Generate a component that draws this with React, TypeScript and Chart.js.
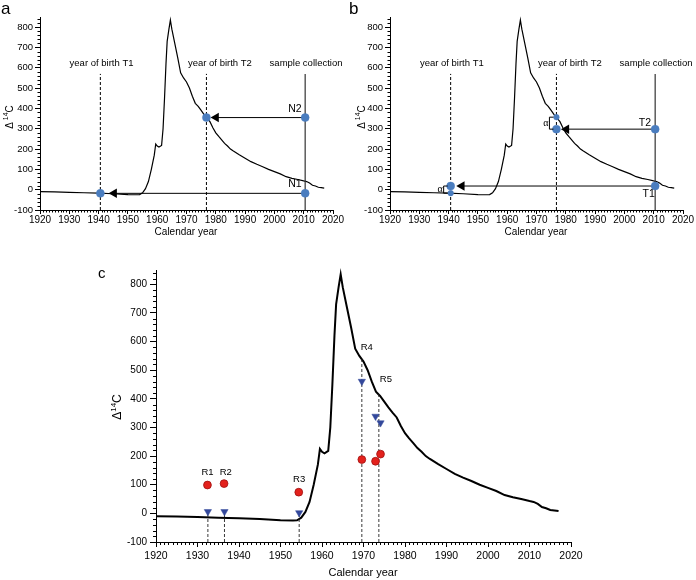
import React, { useEffect, useRef } from 'react';
import { Chart, registerables } from 'chart.js';
Chart.register(...registerables);

const FONT = "'Liberation Sans', Arial, Helvetica, sans-serif";

// ---- atmospheric bomb-curve (Δ14C by calendar year) ----
const curveYears = [1920, 1925, 1930, 1935, 1940, 1945, 1950, 1953, 1954, 1955, 1956, 1957, 1958, 1959, 1959.5, 1960, 1960.6, 1961.5, 1962, 1962.5, 1963, 1963.4, 1964, 1964.5, 1965, 1966, 1967, 1968, 1969, 1970, 1971, 1972, 1973, 1974, 1975, 1976, 1977, 1978, 1979, 1980, 1981, 1982, 1983, 1984, 1985, 1986, 1988, 1990, 1992, 1994, 1996, 1998, 2000, 2002, 2004, 2006, 2008, 2010, 2011, 2012, 2013, 2014, 2015, 2016, 2017];
const curveD14C = [-10, -11, -13, -15, -17, -20, -24, -25, -24, -15, 5, 40, 100, 170, 225, 215, 210, 218, 300, 450, 620, 730, 790, 835, 790, 720, 650, 575, 550, 530, 500, 460, 425, 410, 390, 370, 352, 335, 305, 280, 262, 245, 228, 215, 200, 190, 172, 155, 138, 125, 113, 100, 89, 78, 64, 56, 50, 43, 40, 33, 22, 18, 12, 10, 8];

const xTickYears = [1920, 1930, 1940, 1950, 1960, 1970, 1980, 1990, 2000, 2010, 2020];
const yTickValues = [-100, 0, 100, 200, 300, 400, 500, 600, 700, 800];

// ---- panel a ----
const aBirthYears = [1940.6, 1976.8];
const aSampleYear = 2010.5;
const aGuideTop = 570;
const aSampleValues = [355, -18]; // N2, N1
const aBirthValues = [355, -18];
const aArrowHeadYears = [1980.1, 1945.3];
const aLabelValue = 623;
const aHeaderTexts = ['year of birth T1', 'year of birth T2', 'sample collection'];
const aHeaderYears = [1941, 1981.4, 2010.8];
const aSampleLabels = ['N2', 'N1'];
const aSampleLabelValues = [398, 28];

// ---- panel b ----
const bBirthYears = [1940.7, 1976.8];
const bSampleYear = 2010.5;
const bSampleValues = [298, 18]; // T2, T1
const bCurveAtBirth = [357, -17];
const bArrowHeadYears = [1980.2, 1944.5];
const bHeaderYears = [1941.1, 1981.4, 2010.8];
const bSampleLabels = ['T2', 'T1'];
const bSampleLabelYears = [2009.1, 2010.4];
const bSampleLabelValues = [329, -21];

// ---- panel c ----
const cTriangleYears = [1932.5, 1936.5, 1954.5, 1969.6, 1972.9, 1974.1];
const cTriangleValues = [6, 6, 2, 461, 339, 316];
const cCircleYears = [1932.4, 1936.4, 1954.4, 1969.6, 1972.9, 1974.1];
const cCircleValues = [99, 104, 74, 188, 182, 207];
const cDashYears = [1932.5, 1936.5, 1954.5, 1969.6, 1973.7];
const cDashTops = [6, 6, 2, 542, 419];
const cLabels = ['R1', 'R2', 'R3', 'R4', 'R5'];
const cLabelYears = [1932.4, 1936.8, 1954.5, 1970.8, 1975.4];
const cLabelValues = [142, 142, 119, 579, 467];

type Txt = { text: string; x: number; y: number; align?: CanvasTextAlign; size: number; data?: boolean; family?: string };
type Bracket = { year: number; v1: number; v2: number };

type PanelCfg = {
  padTop: number; padRight: number; yWidth: number; xHeight: number;
  xFont: number; yFont: number; xTickLen: number; yTickLen: number; xPad: number; yPad: number;
  minorLen: number;
  texts: Txt[];
  brackets?: Bracket[];
  yTitle: { x: number; y: number; size: number; gap: boolean };
};

const curvePts = curveYears.map((yr, i) => ({ x: yr, y: curveD14C[i] }));

function annotPlugin(cfg: PanelCfg) {
  return {
    id: 'annot',
    afterDraw(chart: any) {
      const { ctx } = chart;
      const x = chart.scales.x;
      const y = chart.scales.y;
      ctx.save();
      ctx.strokeStyle = '#000';
      ctx.lineWidth = 1;
      const base = y.getPixelForValue(-100);
      for (let yr = 1921; yr < 2020; yr++) {
        if (yr % 10 === 0) continue;
        const px = Math.round(x.getPixelForValue(yr)) + 0.5;
        ctx.beginPath();
        ctx.moveTo(px, base);
        ctx.lineTo(px, base + cfg.minorLen);
        ctx.stroke();
      }
      const left = x.getPixelForValue(1920);
      for (let v = -80; v <= 840; v += 20) {
        if (v % 100 === 0) continue;
        const py = Math.round(y.getPixelForValue(v)) + 0.5;
        ctx.beginPath();
        ctx.moveTo(left, py);
        ctx.lineTo(left - cfg.minorLen, py);
        ctx.stroke();
      }
      // brackets
      (cfg.brackets || []).forEach((b) => {
        const px = x.getPixelForValue(b.year);
        const p1 = y.getPixelForValue(b.v1);
        const p2 = y.getPixelForValue(b.v2);
        ctx.beginPath();
        ctx.moveTo(px - 3, p1);
        ctx.lineTo(px - 7, p1);
        ctx.lineTo(px - 7, p2);
        ctx.lineTo(px - 3, p2);
        ctx.stroke();
        ctx.fillStyle = '#000';
        ctx.font = `10px 'Liberation Serif', serif`;
        ctx.textAlign = 'right';
        ctx.textBaseline = 'middle';
        ctx.fillText('α', px - 8, (p1 + p2) / 2);
      });
      // texts
      ctx.fillStyle = '#000';
      cfg.texts.forEach((t) => {
        ctx.font = `${t.size}px ${t.family || FONT}`;
        ctx.textAlign = t.align || 'center';
        ctx.textBaseline = 'middle';
        const px = t.data ? x.getPixelForValue(t.x) : t.x;
        const py = t.data ? y.getPixelForValue(t.y) : t.y;
        ctx.fillText(t.text, px, py);
      });
      // y title Δ14C
      const yt = cfg.yTitle;
      ctx.translate(yt.x, yt.y);
      ctx.rotate(-Math.PI / 2);
      const big = `${yt.size}px ${FONT}`;
      const small = `${Math.round(yt.size * 0.65)}px ${FONT}`;
      ctx.font = big;
      const wD = ctx.measureText('Δ').width + (yt.gap ? 2 : 0);
      const wC = ctx.measureText('C').width;
      ctx.font = small;
      const w14 = ctx.measureText('14').width;
      let xx = -(wD + w14 + wC) / 2;
      ctx.textAlign = 'left';
      ctx.textBaseline = 'middle';
      ctx.font = big;
      ctx.fillText('Δ', xx, 0);
      xx += wD;
      ctx.font = small;
      ctx.fillText('14', xx, -yt.size * 0.35);
      xx += w14;
      ctx.font = big;
      ctx.fillText('C', xx, 0);
      ctx.restore();
    },
  };
}

function makeOptions(p: PanelCfg) {
  return {
    animation: false,
    responsive: false,
    maintainAspectRatio: false,
    devicePixelRatio: 1,
    events: [],
    layout: { padding: { top: p.padTop, right: p.padRight, left: 0, bottom: 0 } },
    plugins: { legend: { display: false }, tooltip: { enabled: false }, title: { display: false } },
    scales: {
      x: {
        type: 'linear', min: 1920, max: 2020,
        afterBuildTicks: (s: any) => { s.ticks = xTickYears.map((v) => ({ value: v })); },
        afterFit: (s: any) => { s.height = p.xHeight; },
        grid: { drawOnChartArea: false, drawTicks: true, tickLength: p.xTickLen, color: '#000', lineWidth: 1 },
        border: { display: true, color: '#000', width: 1 },
        ticks: { color: '#000', font: { family: FONT, size: p.xFont }, padding: p.xPad, maxRotation: 0, autoSkip: false, callback: (v: any) => String(v) },
      },
      y: {
        type: 'linear', min: -100, max: 850,
        afterBuildTicks: (s: any) => { s.ticks = yTickValues.map((v) => ({ value: v })); },
        afterFit: (s: any) => { s.width = p.yWidth; },
        grid: { drawOnChartArea: false, drawTicks: true, tickLength: p.yTickLen, color: '#000', lineWidth: 1 },
        border: { display: true, color: '#000', width: 1 },
        ticks: { color: '#000', font: { family: FONT, size: p.yFont }, padding: p.yPad, autoSkip: false, callback: (v: any) => String(v) },
      },
    },
  };
}

const lineDs = (pts: { x: number; y: number }[], extra: any = {}) => ({
  data: pts, showLine: true, pointRadius: 0, borderColor: '#000', borderWidth: 1, fill: false, order: 5, clip: false, ...extra,
});
const pointDs = (pts: { x: number; y: number }[], color: string, radius: number, extra: any = {}) => ({
  data: pts, showLine: false, pointRadius: radius, pointBackgroundColor: color, pointBorderColor: color, pointBorderWidth: 0.5, order: 0, clip: false, ...extra,
});
const arrowHead = (x: number, y: number) => ({
  data: [{ x, y }], showLine: false, pointStyle: 'triangle', rotation: -90, pointRadius: 5.5, pointBackgroundColor: '#000', pointBorderColor: '#000', pointBorderWidth: 0, order: 1, clip: false,
});

const BLUE = '#4a7dbf';

function panelAB(which: 'a' | 'b') {
  const births = which === 'a' ? aBirthYears : bBirthYears;
  const sample = which === 'a' ? aSampleYear : bSampleYear;
  const sVals = which === 'a' ? aSampleValues : bSampleValues;
  const heads = which === 'a' ? aArrowHeadYears : bArrowHeadYears;
  const datasets: any[] = [
    lineDs(curvePts, { borderWidth: 1.2, order: 6 }),
    ...births.map((b) => lineDs([{ x: b, y: -100 }, { x: b, y: aGuideTop }], { borderDash: [3, 2] })),
    lineDs([{ x: sample, y: -100 }, { x: sample, y: aGuideTop }], { borderColor: '#333', borderWidth: 1.2 }),
    ...sVals.map((v, i) => lineDs([{ x: sample, y: v }, { x: heads[i], y: v }])),
    ...sVals.map((v, i) => arrowHead(heads[i], v)),
    pointDs(sVals.map((v) => ({ x: sample, y: v })), BLUE, 4),
  ];
  if (which === 'a') {
    datasets.push(pointDs([{ x: births[1], y: aBirthValues[0] }, { x: births[0], y: aBirthValues[1] }], BLUE, 4));
  } else {
    datasets.push(pointDs([{ x: births[1], y: bSampleValues[0] }, { x: births[0], y: bSampleValues[1] }], BLUE, 4));
    datasets.push(pointDs([{ x: births[1], y: bCurveAtBirth[0] }, { x: births[0], y: bCurveAtBirth[1] }], BLUE, 2.8));
  }
  const headerYears = which === 'a' ? aHeaderYears : bHeaderYears;
  const texts: Txt[] = [
    ...aHeaderTexts.map((t, i) => ({ text: t, x: headerYears[i], y: aLabelValue, size: 9.5, data: true })),
  ];
  if (which === 'a') {
    aSampleLabels.forEach((t, i) => texts.push({ text: t, x: 2009.3, y: aSampleLabelValues[i], size: 10.5, align: 'right', data: true }));
    texts.push({ text: 'a', x: 1, y: 9, size: 17, align: 'left' });
    texts.push({ text: 'Calendar year', x: 186, y: 232, size: 10 });
  } else {
    bSampleLabels.forEach((t, i) => texts.push({ text: t, x: bSampleLabelYears[i], y: bSampleLabelValues[i], size: 10.5, align: 'right', data: true }));
    texts.push({ text: 'b', x: 4, y: 9, size: 17, align: 'left' });
    texts.push({ text: 'Calendar year', x: 191, y: 232, size: 10 });
  }
  const cfg: PanelCfg = {
    padTop: 17, padRight: which === 'a' ? 12 : 13, yWidth: which === 'a' ? 40 : 45, xHeight: 35,
    xFont: 10, yFont: 9.5, xTickLen: 4, yTickLen: 5, xPad: 0, yPad: 2, minorLen: 2.5,
    texts,
    brackets: which === 'b' ? births.map((b, i) => ({ year: b, v1: i === 0 ? bSampleValues[1] : bCurveAtBirth[0], v2: i === 0 ? bCurveAtBirth[1] : bSampleValues[0] })) : [],
    yTitle: { x: which === 'a' ? 10 : 17, y: 117, size: 10, gap: true },
  };
  return { datasets, cfg };
}

function panelC() {
  const datasets: any[] = [
    lineDs(curvePts, { borderWidth: 2, order: 6 }),
    ...cDashYears.map((yr, i) => lineDs([{ x: yr, y: -100 }, { x: yr, y: cDashTops[i] }], { borderDash: [3, 2], borderWidth: 0.9, borderColor: '#222' })),
    pointDs(cTriangleYears.map((yr, i) => ({ x: yr, y: cTriangleValues[i] })), '#33489b', 4.2, { pointStyle: 'triangle', rotation: 180 }),
    pointDs(cCircleYears.map((yr, i) => ({ x: yr, y: cCircleValues[i] })), '#e3211c', 3.9, { pointBorderColor: '#a01010', pointBorderWidth: 0.8 }),
  ];
  const texts: Txt[] = cLabels.map((t, i) => ({ text: t, x: cLabelYears[i], y: cLabelValues[i], size: 9.5, data: true }));
  texts.push({ text: 'c', x: 38, y: 19, size: 15, align: 'left' });
  texts.push({ text: 'Calendar year', x: 303, y: 318, size: 11 });
  const cfg: PanelCfg = {
    padTop: 15, padRight: 69, yWidth: 96, xHeight: 38,
    xFont: 10.5, yFont: 10, xTickLen: 5, yTickLen: 6, xPad: 3, yPad: 3, minorLen: 3,
    texts,
    yTitle: { x: 58, y: 152, size: 12, gap: false },
  };
  return { datasets, cfg };
}

export default function App() {
  const refA = useRef<HTMLCanvasElement>(null);
  const refB = useRef<HTMLCanvasElement>(null);
  const refC = useRef<HTMLCanvasElement>(null);

  useEffect(() => {
    const charts: Chart[] = [];
    const build = (canvas: HTMLCanvasElement | null, p: { datasets: any[]; cfg: PanelCfg }) => {
      if (!canvas) return;
      charts.push(new Chart(canvas, {
        type: 'scatter',
        data: { datasets: p.datasets },
        options: makeOptions(p.cfg) as any,
        plugins: [annotPlugin(p.cfg)],
      }));
    };
    build(refA.current, panelAB('a'));
    build(refB.current, panelAB('b'));
    build(refC.current, panelC());
    return () => charts.forEach((c) => c.destroy());
  }, []);

  const cs = (l: number, t: number): React.CSSProperties => ({ position: 'absolute', left: l, top: t, display: 'block' });
  return (
    <div style={{ position: 'absolute', left: 0, top: 0, width: 696, height: 580, background: '#fff', overflow: 'hidden' }}>
      <canvas ref={refA} width={345} height={245} style={cs(0, 0)} />
      <canvas ref={refB} width={351} height={245} style={cs(345, 0)} />
      <canvas ref={refC} width={580} height={325} style={cs(60, 255)} />
    </div>
  );
}
